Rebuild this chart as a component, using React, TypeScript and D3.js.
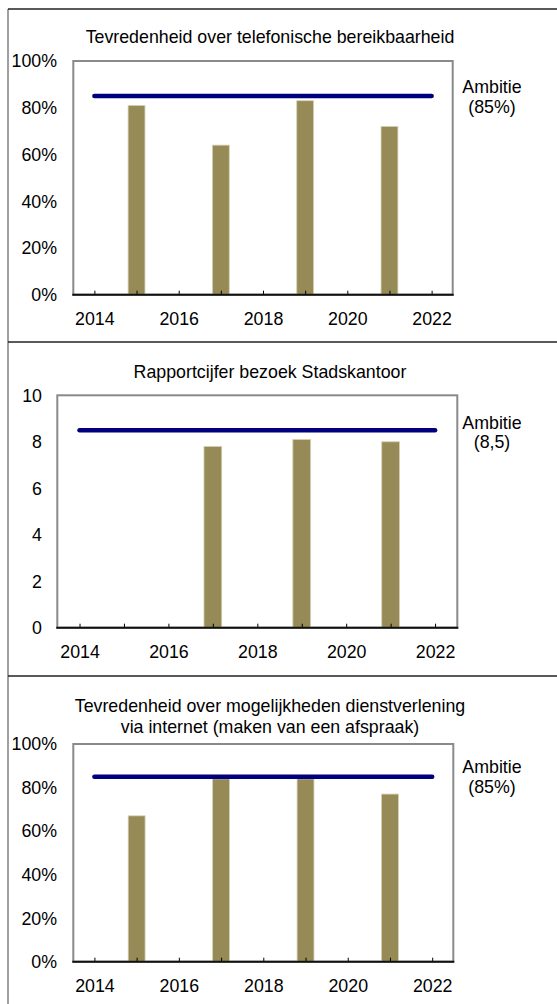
import React, { useEffect, useRef } from 'react';
import * as d3 from 'd3';

// jaren op de x-as
const yearTicks = d3.range(2014, 2023);
const yearLabels = [2014, 2016, 2018, 2020, 2022];

// telefonische bereikbaarheid (%)
const phoneYears = [2015, 2017, 2019, 2021];
const phoneValues = [81, 64, 83, 72];

// rapportcijfer stadskantoor
const officeYears = [2017, 2019, 2021];
const officeValues = [7.8, 8.1, 8.0];

// afspraak maken via internet (%)
const webYears = [2015, 2017, 2019, 2021];
const webValues = [67, 84, 84, 77];

const percentTicks = [0, 20, 40, 60, 80, 100];
const gradeTicks = [0, 2, 4, 6, 8, 10];

const WIDTH = 557;
const HEIGHT = 1004;
const FONT = "'Liberation Sans', Arial, sans-serif";
const FONT_SIZE = '17.8px';
const BAR_COLOR = '#968b56';
const LINE_COLOR = '#00007f';

interface IPanel {
  title: string[];
  titleY: number[];
  years: number[];
  values: number[];
  yMax: number;
  yTicks: number[];
  yFormat: (v: number) => string;
  target: number;
  targetLabel: string[];
  targetLabelY: number[];
  top: number;
  bottom: number;
  left: number;
  right: number;
  labelX: number;
}

const panels: IPanel[] = [
  {
    title: ['Tevredenheid over telefonische bereikbaarheid'],
    titleY: [43],
    years: phoneYears,
    values: phoneValues,
    yMax: 100,
    yTicks: percentTicks,
    yFormat: (v) => `${v}%`,
    target: 85,
    targetLabel: ['Ambitie', '(85%)'],
    targetLabelY: [93, 113],
    top: 61,
    bottom: 294.7,
    left: 73.3,
    right: 452.7,
    labelX: 57,
  },
  {
    title: ['Rapportcijfer bezoek Stadskantoor'],
    titleY: [378],
    years: officeYears,
    values: officeValues,
    yMax: 10,
    yTicks: gradeTicks,
    yFormat: (v) => `${v}`,
    target: 8.5,
    targetLabel: ['Ambitie', '(8,5)'],
    targetLabelY: [429, 448],
    top: 395.3,
    bottom: 627.7,
    left: 57.3,
    right: 457.3,
    labelX: 42,
  },
  {
    title: ['Tevredenheid over mogelijkheden dienstverlening', 'via internet (maken van een afspraak)'],
    titleY: [712, 733],
    years: webYears,
    values: webValues,
    yMax: 100,
    yTicks: percentTicks,
    yFormat: (v) => `${v}%`,
    target: 85,
    targetLabel: ['Ambitie', '(85%)'],
    targetLabelY: [773, 793],
    top: 744,
    bottom: 961.7,
    left: 73.3,
    right: 453.3,
    labelX: 57,
  },
];

const panelEdges = [9, 342, 676];

const App = () => {
  const ref = useRef<SVGSVGElement>(null);

  useEffect(() => {
    const svg = d3.select(ref.current);
    svg.selectAll('*').remove();

    // panel borders
    svg
      .append('line')
      .attr('x1', 8)
      .attr('x2', 8)
      .attr('y1', panelEdges[0])
      .attr('y2', HEIGHT)
      .attr('stroke', '#808080')
      .attr('stroke-width', 1.5);
    svg
      .selectAll('line.edge')
      .data(panelEdges)
      .enter()
      .append('line')
      .attr('class', 'edge')
      .attr('x1', 8)
      .attr('x2', WIDTH)
      .attr('y1', (d) => d)
      .attr('y2', (d) => d)
      .attr('stroke', '#222')
      .attr('stroke-width', 1.5);

    panels.forEach((p) => {
      const g = svg.append('g').style('font-family', FONT).style('font-size', FONT_SIZE);

      const x = d3.scaleLinear().domain([2013.5, 2022.5]).range([p.left, p.right]);
      const y = d3.scaleLinear().domain([0, p.yMax]).range([p.bottom, p.top]);

      // title
      g.selectAll('text.title')
        .data(p.title)
        .enter()
        .append('text')
        .attr('class', 'title')
        .attr('x', 270)
        .attr('y', (_, i) => p.titleY[i])
        .attr('text-anchor', 'middle')
        .text((d) => d);

      // y labels
      g.selectAll('text.ylab')
        .data(p.yTicks)
        .enter()
        .append('text')
        .attr('class', 'ylab')
        .attr('x', p.labelX)
        .attr('y', (d) => y(d))
        .attr('dy', '0.36em')
        .attr('text-anchor', 'end')
        .text((d) => p.yFormat(d));

      // plot frame
      g.append('rect')
        .attr('x', p.left)
        .attr('y', p.top)
        .attr('width', p.right - p.left)
        .attr('height', p.bottom - p.top)
        .attr('fill', 'none')
        .attr('stroke', '#8a8a8a')
        .attr('stroke-width', 2);

      // bars
      const barW = x(2014.4) - x(2014);
      g.selectAll('rect.bar')
        .data(p.years)
        .enter()
        .append('rect')
        .attr('class', 'bar')
        .attr('x', (d) => x(d) - barW / 2)
        .attr('y', (_, i) => y(p.values[i]))
        .attr('width', barW)
        .attr('height', (_, i) => y(0) - y(p.values[i]))
        .attr('fill', BAR_COLOR)
        .attr('stroke', '#d6d0b4')
        .attr('stroke-width', 0.8);

      // x axis
      const axis = g
        .append('g')
        .attr('transform', `translate(0, ${p.bottom})`)
        .call(
          d3
            .axisBottom(x)
            .tickValues(yearTicks)
            .tickSize(-4)
            .tickPadding(18)
            .tickFormat((d) => (yearLabels.includes(d as number) ? `${d}` : ''))
        );
      axis.select('.domain').remove();
      axis.selectAll('.tick line').attr('stroke', '#000');
      axis
        .selectAll('.tick text')
        .attr('fill', '#000')
        .style('font-family', FONT)
        .style('font-size', FONT_SIZE);
      g.append('line')
        .attr('x1', p.left - 1)
        .attr('x2', p.right + 1)
        .attr('y1', p.bottom)
        .attr('y2', p.bottom)
        .attr('stroke', '#111')
        .attr('stroke-width', 2);

      // ambitie
      const lineGen = d3
        .line<number>()
        .x((d) => x(d))
        .y(() => y(p.target));
      g.append('path')
        .attr('d', lineGen([2014, 2022]))
        .attr('fill', 'none')
        .attr('stroke', LINE_COLOR)
        .attr('stroke-width', 4.5)
        .attr('stroke-linecap', 'round');

      g.selectAll('text.amb')
        .data(p.targetLabel)
        .enter()
        .append('text')
        .attr('class', 'amb')
        .attr('x', 492)
        .attr('y', (_, i) => p.targetLabelY[i])
        .attr('text-anchor', 'middle')
        .text((d) => d);
    });
  }, []);

  return (
    <div style={{ position: 'absolute', left: 0, top: 0 }}>
      <svg ref={ref} width={WIDTH} height={HEIGHT} style={{ display: 'block' }} />
    </div>
  );
};

export default App;
